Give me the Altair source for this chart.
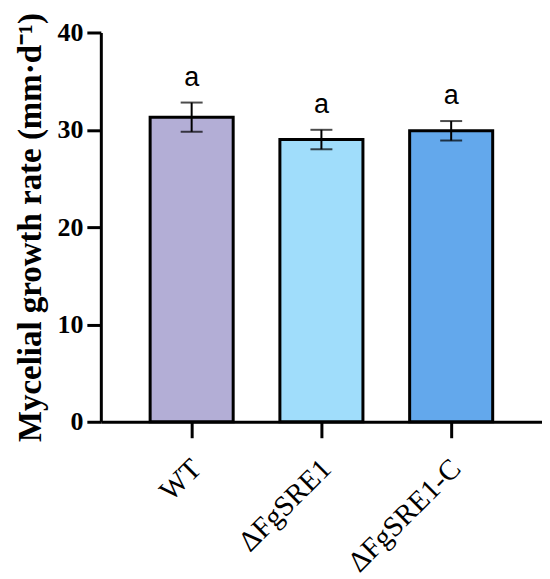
import altair as alt
import pandas as pd

strains = ["WT", "ΔFgSRE1", "ΔFgSRE1-C"]
means = [31.3, 29.0, 29.9]
sds = [1.5, 1.0, 1.0]
letters = ["a", "a", "a"]
colors = ["#B3AED6", "#A0DDFB", "#63A8EC"]

df = pd.DataFrame({
    "strain": strains,
    "mean": means,
    "lo": [m - s for m, s in zip(means, sds)],
    "hi": [m + s for m, s in zip(means, sds)],
    "letter": letters,
})

xenc = alt.X(
    "strain:N", sort=strains, title=None,
    scale=alt.Scale(paddingInner=0.36, paddingOuter=0.38),
    axis=alt.Axis(labelAngle=-45, labelFont="Liberation Serif", labelFontSize=29,
                  labelColor="black", tickSize=16, tickWidth=3, tickColor="black",
                  domainWidth=3, domainColor="black", labelPadding=16, labelOffset=-5,
                  labelAlign="right", labelBaseline="top"),
)

yscale = alt.Scale(domain=[0, 40], nice=False)

bars = alt.Chart(df).mark_bar(stroke="black", strokeWidth=3).encode(
    x=xenc,
    y=alt.Y("mean:Q", scale=yscale, title="Mycelial growth rate (mm·d⁻¹)",
            axis=alt.Axis(values=[0, 10, 20, 30, 40], labelFont="Liberation Serif",
                          labelFontSize=26, labelFontWeight="bold", labelColor="black",
                          titleFont="Liberation Serif", titleFontSize=33,
                          titleFontWeight="bold", titleColor="black",
                          tickSize=14, tickWidth=3, tickColor="black",
                          domainWidth=3, domainColor="black", labelPadding=4,
                          titlePadding=9, grid=False)),
    color=alt.Color("strain:N", scale=alt.Scale(domain=strains, range=colors), legend=None),
)

err = alt.Chart(df).mark_rule(color="black", strokeWidth=2).encode(
    x=alt.X("strain:N", sort=strains),
    y=alt.Y("lo:Q", scale=yscale),
    y2="hi:Q",
)
caps_hi = alt.Chart(df).mark_tick(color="black", thickness=2, size=22, orient="horizontal").encode(
    x=alt.X("strain:N", sort=strains),
    y=alt.Y("hi:Q", scale=yscale),
)
caps_lo = alt.Chart(df).mark_tick(color="black", thickness=2, size=22, orient="horizontal").encode(
    x=alt.X("strain:N", sort=strains),
    y=alt.Y("lo:Q", scale=yscale),
)
text = alt.Chart(df).mark_text(font="Liberation Sans", fontSize=27, dy=-11,
                               color="black", baseline="bottom").encode(
    x=alt.X("strain:N", sort=strains),
    y=alt.Y("hi:Q", scale=yscale),
    text="letter:N",
)

chart = alt.layer(bars, err, caps_hi, caps_lo, text).properties(
    width=442, height=390,
    autosize=alt.AutoSizeParams(type="none"),
    padding={"left": 93, "top": 24, "right": 0, "bottom": 160},
).configure_view(stroke=None)

chart.save("out.html", embed_options={"renderer": "svg", "actions": False})
